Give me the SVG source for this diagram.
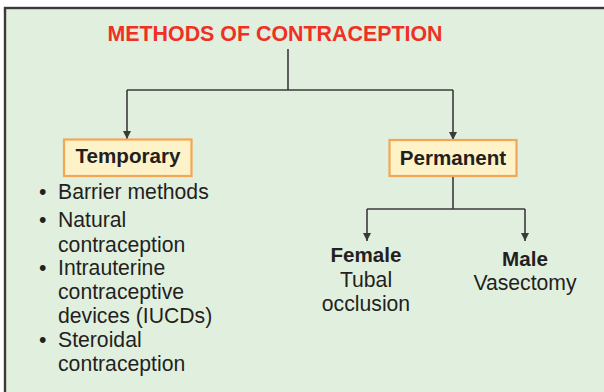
<svg xmlns="http://www.w3.org/2000/svg" width="604" height="392" viewBox="0 0 604 392">
<style>
text{font-family:"Liberation Sans",Arial,sans-serif;fill:#231f20;font-size:21.2px}
.b{font-weight:bold;font-size:20.6px}
.t{fill:#ee3124;font-weight:bold;font-size:21.4px}
.box{fill:#fdf2c8;stroke:#f3a654;stroke-width:2.2}
.c{fill:none;stroke:#3a3a3a;stroke-width:1.6}
.m{text-anchor:middle}
</style>
<defs>
<marker id="ah" viewBox="0 0 8 8" refX="8" refY="4" markerWidth="8" markerHeight="8" markerUnits="userSpaceOnUse" orient="auto">
<path d="M0,0 L8,4 L0,8 z" fill="#3a3a3a"/>
</marker>
</defs>
<rect x="0" y="0" width="604" height="392" fill="#ffffff"/>
<rect x="5" y="8" width="610" height="400" fill="#e1efdf" stroke="#3a3a3a" stroke-width="2.4"/>
<g id="title"><text class="t m" x="275" y="41">METHODS OF CONTRACEPTION</text></g>
<g id="connectors">
<path class="c" d="M288,49 V90"/>
<path class="c" d="M127,90 H453"/>
<path class="c" d="M127,90 V139" marker-end="url(#ah)"/>
<path class="c" d="M453,90 V140" marker-end="url(#ah)"/>
<path class="c" d="M453,176 V209"/>
<path class="c" d="M367,209 H525"/>
<path class="c" d="M367,209 V241" marker-end="url(#ah)"/>
<path class="c" d="M525,209 V241" marker-end="url(#ah)"/>
</g>
<g id="temporary">
<rect class="box" x="64" y="139.5" width="127.5" height="36.5"/>
<text class="b m" x="128" y="163">Temporary</text>
</g>
<g id="permanent">
<rect class="box" x="389.5" y="140" width="127" height="36"/>
<text class="b m" x="453" y="165">Permanent</text>
</g>
<g id="temporary-list">
<text x="39" y="199">•</text><text x="58" y="199">Barrier methods</text>
<text x="39" y="227">•</text><text x="58" y="227">Natural</text>
<text x="58" y="251.5">contraception</text>
<text x="39" y="275">•</text><text x="58" y="275">Intrauterine</text>
<text x="58" y="298.5">contraceptive</text>
<text x="58" y="322.5">devices (IUCDs)</text>
<text x="39" y="346.5">•</text><text x="58" y="346.5">Steroidal</text>
<text x="58" y="371">contraception</text>
</g>
<g id="female">
<text class="b m" x="366" y="262">Female</text>
<text class="m" x="366" y="287">Tubal</text>
<text class="m" x="366" y="311">occlusion</text>
</g>
<g id="male">
<text class="b m" x="525" y="266">Male</text>
<text class="m" x="525" y="290">Vasectomy</text>
</g>
</svg>
